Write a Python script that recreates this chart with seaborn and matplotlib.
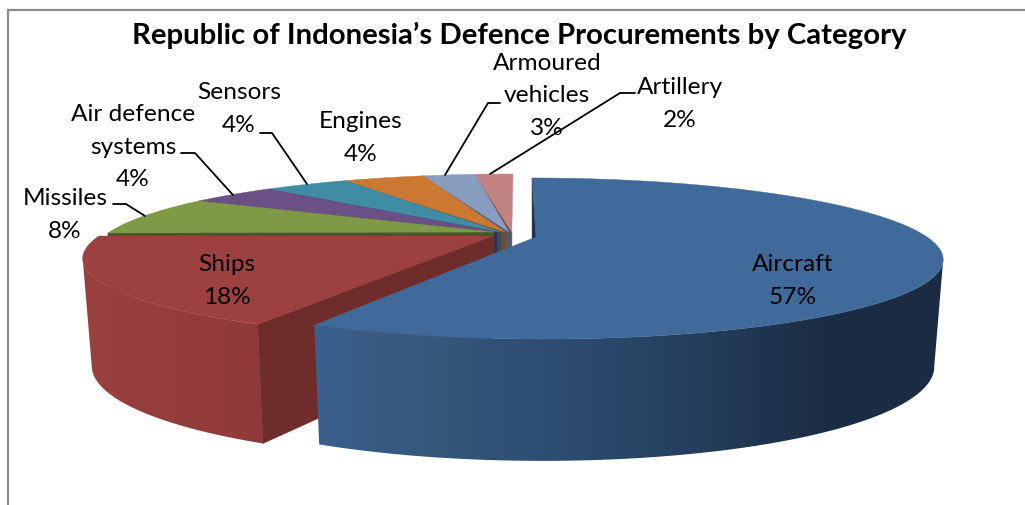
import numpy as np
import matplotlib
matplotlib.use("Agg")
import matplotlib.pyplot as plt
from matplotlib.patches import Polygon
import seaborn as sns

# ---- data ----
categories = ["Aircraft", "Ships", "Missiles", "Air defence\nsystems", "Sensors",
              "Engines", "Armoured\nvehicles", "Artillery"]
shares = [57.3, 17.7, 8.0, 4.3, 4.2, 4.0, 2.6, 1.9]
title = "Republic of Indonesia\u2019s Defence Procurements by Category"

# ---- styles ----
top_colors = ["#3F6A9A", "#9C4140", "#7E9A46", "#6A5084", "#3F8CA4", "#CB7832", "#889DC0", "#C28482"]
face_colors = ["#1C3048", "#6E2C2B", "#465728", "#3C2D4C", "#225566", "#7A4A1E", "#4C5A75", "#6E4A49"]
aircraft_wall = [(320, "#3A5F8C"), (450, "#345678"), (540, "#2E4E73"), (700, "#243F5C"), (820, "#1B2D44"), (945, "#1A2B42")]
ships_wall = [(85, "#9A403E"), (265, "#8F3A39")]

sns.set_theme(style="white")
plt.rcParams["font.family"] = ["Lato", "DejaVu Sans"]
palette = sns.color_palette(top_colors)

fig = plt.figure(figsize=(10.25, 5.05), dpi=100)
ax = fig.add_axes([0, 0, 1, 1])

# perspective projection of the pie plane
K, B = 0.267, 74.8
H, B_LOW, F_LOW = 103.0, 88.6, 0.978


def xy(theta):
    t = np.radians(theta)
    return np.sin(t), np.cos(t)


def top(theta, cx, cy, A, s=0.0):
    X, Y = xy(theta)
    w = 1 + K * Y
    return cx + (A * X + s * Y) / w, cy - B * Y / w


def low(theta, cx, cy, A, s=0.0):
    X, Y = xy(theta)
    w = 1 + K * Y
    return cx + F_LOW * (A * X + s * Y) / w, cy + H - B_LOW * Y / w


def wall(rx, ry, lx, ly, stops, z):
    """Outer wall of a slice: a horizontal gradient clipped to the wall outline."""
    xs = np.linspace(stops[0][0] - 40, stops[-1][0] + 10, 500)
    px = [p[0] for p in stops]
    rgb = np.array([matplotlib.colors.to_rgb(p[1]) for p in stops])
    img = np.stack([np.interp(xs, px, rgb[:, i]) for i in range(3)], axis=-1)[None, :, :]
    outline = Polygon(np.c_[np.r_[rx, lx[::-1]], np.r_[ry, ly[::-1]]], closed=True,
                      transform=ax.transData, facecolor="none", edgecolor="none")
    ax.add_patch(outline)
    im = ax.imshow(img, extent=(xs[0], xs[-1], 500, 100), aspect="auto", zorder=z, interpolation="bilinear")
    im.set_clip_path(outline)


edges = np.concatenate([[0.0], np.cumsum(shares)]) * 3.6

# small slices, back to front
CX, CY, A_REST = 513.0, 233.0, 405.0
for i in range(7, 1, -1):
    a0, a1 = edges[i], edges[i + 1]
    Xm, _ = xy((a0 + a1) / 2)
    ax_, ay_ = CX + 20 * Xm, CY - 1
    th = np.linspace(a0, a1, 40)
    rx, ry = top(th, CX, CY, A_REST)
    ax.fill([rx[0], ax_, ax_, rx[0]], [ry[0], ay_, ay_ + 60, ry[0] + 60],
            color=face_colors[i], lw=0.5, zorder=8 - i)
    ax.fill(np.r_[ax_, rx], np.r_[ay_, ry], color=palette[i], lw=0.3, zorder=10 + (7 - i))

# ships
a0, a1 = edges[1], edges[2]
cx, cy, A, s = 493.0, 236.0, 394.0, 5.0
th = np.linspace(a0, a1, 300)
rx, ry = top(th, cx, cy, A, s)
lx, ly = low(th, cx, cy, A, s)
n = int(np.argmin(rx)) + 1
wall(rx[:n], ry[:n], lx[:n], ly[:n], ships_wall, 20)
ax.fill([rx[0], cx, cx, lx[0]], [ry[0], cy, cy + H, ly[0]], color=face_colors[1], lw=0.4, zorder=21)
ax.fill(np.r_[cx, rx], np.r_[cy, ry], color=palette[1], lw=0.3, zorder=22)

# aircraft
a0, a1 = edges[0], edges[1]
cx, cy, A, s = 536.0, 237.0, 391.0, -5.0
rx0, ry0 = top(0.0, cx, cy, A, s)
lx0, ly0 = low(0.0, cx, cy, A, s)
ax.fill([rx0, cx, cx, lx0], [ry0, cy, cy + H, ly0], color=face_colors[0], lw=0.4, zorder=30)
th = np.linspace(a0, a1, 600)
rx, ry = top(th, cx, cy, A, s)
lx, ly = low(th, cx, cy, A, s)
n = int(np.argmax(rx))
wall(rx[n:], ry[n:], lx[n:], ly[n:], aircraft_wall, 31)
ax.fill(np.r_[cx, rx], np.r_[cy, ry], color=palette[0], lw=0.3, zorder=32)

# chart frame
ax.plot([8, 8, 1025], [505, 10, 10], color="#8C8C8C", lw=1.6, zorder=1, solid_joinstyle="miter")

# title
ax.text(519, 35, title, ha="center", va="center", fontsize=21.2, fontweight="bold", color="black", zorder=50)

# labels: one centre per category, in chart order
label_pos = [(793, 281), (227, 281), (65, 215), (133, 147), (239, 109), (361, 138), (547, 96), (680, 104)]
for cat, share, (px, py) in zip(categories, shares, label_pos):
    ax.text(px, py, f"{cat}\n{share:.0f}%", ha="center", va="center", fontsize=17.6,
            linespacing=1.65, color="black", zorder=50)

# leader lines
leaders = [([113, 126, 145], [204, 204, 216]),
           ([181, 195, 233], [153, 153, 195]),
           ([260, 272, 307], [133, 133, 184]),
           ([500, 488, 445], [103, 103, 175]),
           ([635, 620, 490], [93, 93, 174])]
for lxs, lys in leaders:
    ax.plot(lxs, lys, color="black", lw=1.3, zorder=45)

ax.set_xlim(0, 1025)
ax.set_ylim(505, 0)
ax.axis("off")

fig.savefig("out.png", dpi=100)
